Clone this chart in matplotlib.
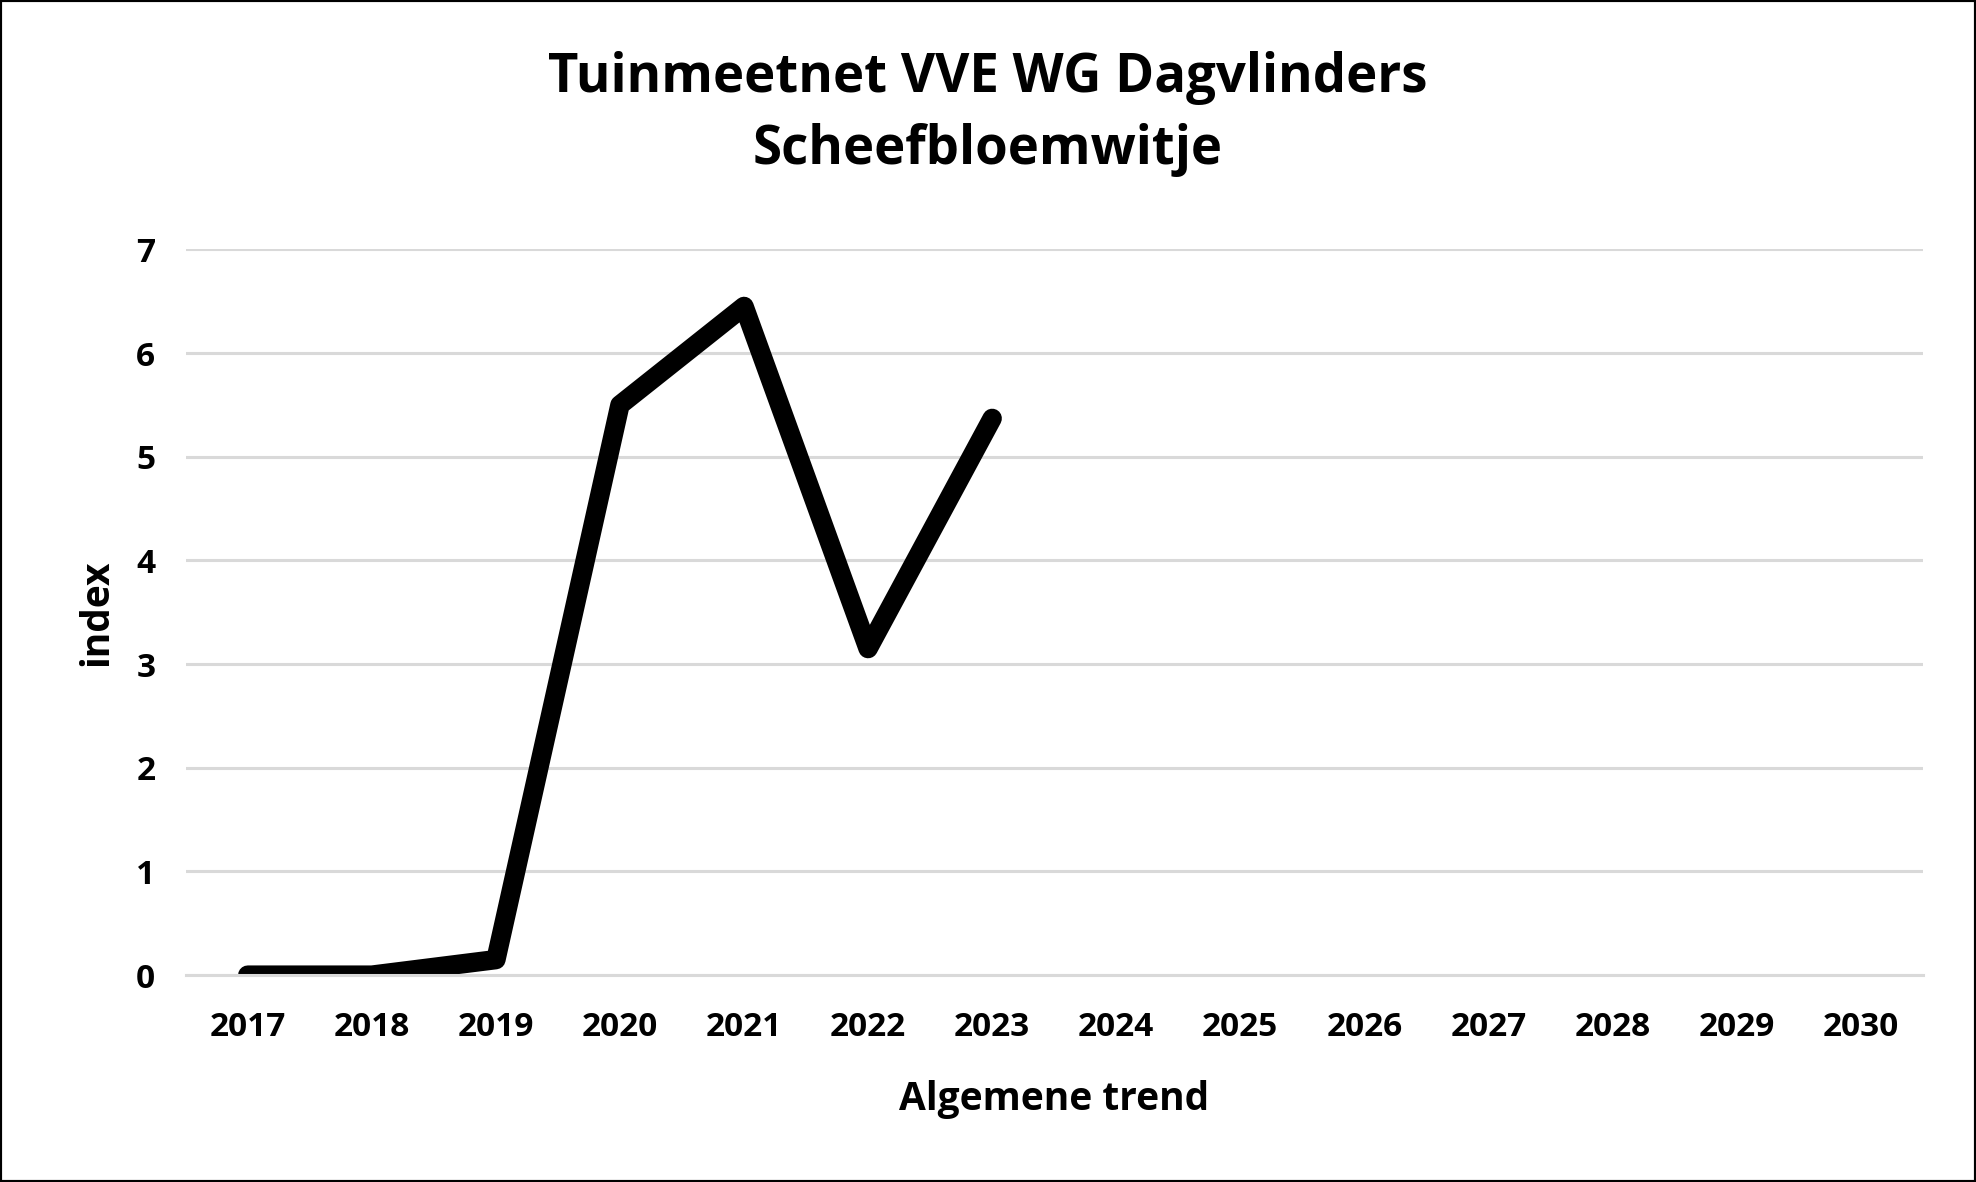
import matplotlib.pyplot as plt
from matplotlib.patches import Rectangle

years = ['2017', '2018', '2019', '2020', '2021', '2022', '2023', '2024',
         '2025', '2026', '2027', '2028', '2029', '2030']
index_values = [0.0, 0.0, 0.15, 5.5, 6.45, 3.15, 5.37]

plt.rcParams['font.family'] = ['Open Sans', 'DejaVu Sans']
plt.rcParams['font.weight'] = 'bold'

fig = plt.figure(figsize=(19.76, 11.82), dpi=100)
ax = fig.add_axes([0.094, 0.175, 0.879, 0.614])

x = list(range(len(index_values)))
ax.plot(x, index_values, color='black', linewidth=14,
        solid_joinstyle='round', solid_capstyle='round')

ax.set_xlim(-0.5, len(years) - 0.5)
ax.set_ylim(0, 7)
ax.set_xticks(range(len(years)))
ax.set_xticklabels(years)
ax.set_yticks(range(8))
ax.tick_params(axis='both', length=0, labelsize=24)
ax.tick_params(axis='x', pad=26)
ax.tick_params(axis='y', pad=22)
for lab in ax.get_xticklabels() + ax.get_yticklabels():
    lab.set_fontweight('bold')
ax.yaxis.grid(True, color='#d9d9d9', linewidth=2.2)
ax.set_axisbelow(True)
for side in ['top', 'right', 'left']:
    ax.spines[side].set_visible(False)
ax.spines['bottom'].set_color('#d9d9d9')
ax.spines['bottom'].set_linewidth(2.2)

ax.set_xlabel('Algemene trend', fontsize=28, fontweight='bold', labelpad=26)
ax.set_ylabel('index', fontsize=28, fontweight='bold', labelpad=14)
fig.suptitle('Tuinmeetnet VVE WG Dagvlinders\nScheefbloemwitje',
             fontsize=38, fontweight='bold', y=0.957, linespacing=1.45)

fig.patches.append(Rectangle((0, 0), 1, 1, transform=fig.transFigure,
                             fill=False, edgecolor='black', linewidth=3))

fig.savefig('out.png', dpi=100)
